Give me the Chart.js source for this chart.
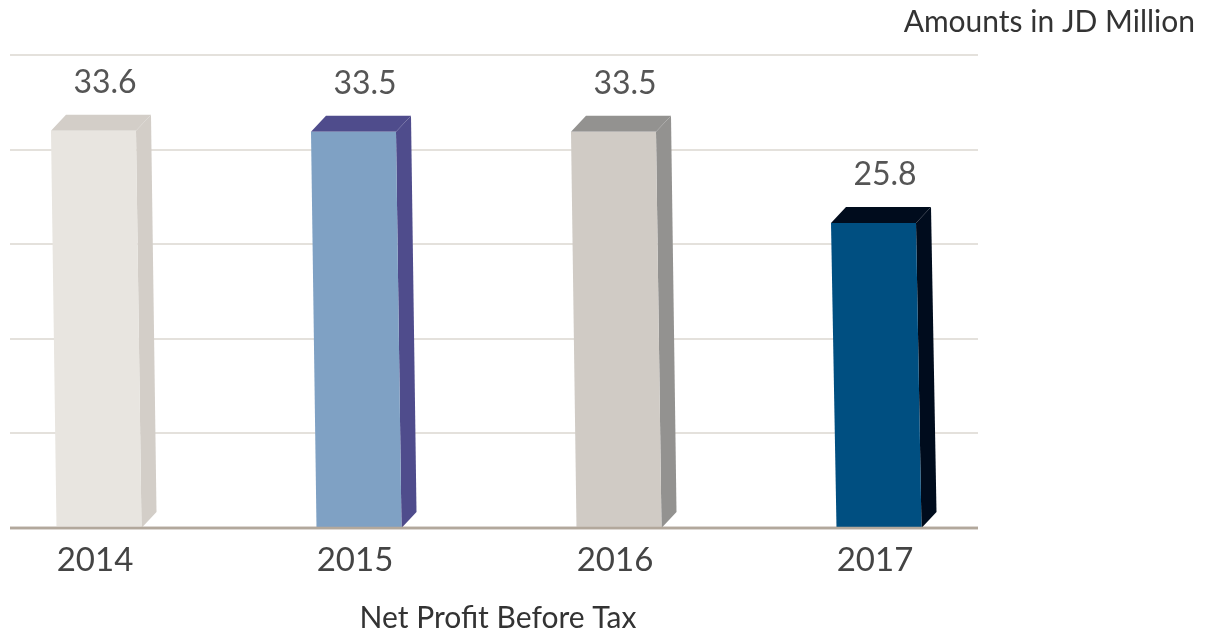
<!DOCTYPE html>
<html>
<head>
<meta charset="utf-8">
<script src="https://cdn.jsdelivr.net/npm/chart.js@4.4.1/dist/chart.umd.min.js"></script>
<style>
  html, body { margin:0; padding:0; background:#fff; }
  #wrap { width:1217px; height:633px; position:relative; }
</style>
</head>
<body>
<div id="wrap"><canvas id="c" width="1217" height="633"></canvas></div>
<script>
// data
const years = ['2014', '2015', '2016', '2017'];
const profit = [33.6, 33.5, 33.5, 25.8];
const gridTicks = [0, 8, 16, 24, 32, 40];

const frontColors = ['#e8e5e0', '#7fa1c4', '#d0cbc5', '#004f81'];
const sideColors  = ['#d3cec8', '#4f4c8c', '#939290', '#000c1d'];

const FONT = 'Lato, "Noto Sans", sans-serif';

// draws grid, 3D boxes and all the text from the chart's scales
const boxPlugin = {
  id: 'boxes',
  beforeDatasetsDraw(chart) {
    const ctx = chart.ctx;
    const y = chart.scales.y;
    ctx.save();
    gridTicks.forEach(t => {
      const py = Math.round(y.getPixelForValue(t));
      ctx.beginPath();
      ctx.moveTo(10, py);
      ctx.lineTo(978, py);
      if (t === 0) { ctx.strokeStyle = '#b2a89c'; ctx.lineWidth = 2.5; }
      else { ctx.strokeStyle = '#e4e1dc'; ctx.lineWidth = 2; }
      ctx.stroke();
    });
    ctx.restore();
  },
  afterDatasetsDraw(chart) {
    const ctx = chart.ctx;
    const meta = chart.getDatasetMeta(0);
    const w = 85, dx = 15, dy = 16;
    ctx.save();
    meta.data.forEach((bar, i) => {
      const top = bar.y, base = bar.base;
      const tl = bar.x - 1.5 - w / 2, tr = tl + w;
      const bl = bar.x + 4 - w / 2, br = bl + w;
      // side
      ctx.fillStyle = sideColors[i];
      ctx.beginPath();
      ctx.moveTo(tr, top); ctx.lineTo(tr + dx, top - dy);
      ctx.lineTo(br + dx, base - dy); ctx.lineTo(br, base);
      ctx.closePath(); ctx.fill();
      // top
      ctx.beginPath();
      ctx.moveTo(tl, top); ctx.lineTo(tl + dx, top - dy);
      ctx.lineTo(tr + dx, top - dy); ctx.lineTo(tr, top);
      ctx.closePath(); ctx.fill();
      // front
      ctx.fillStyle = frontColors[i];
      ctx.beginPath();
      ctx.moveTo(tl, top); ctx.lineTo(tr, top);
      ctx.lineTo(br, base); ctx.lineTo(bl, base);
      ctx.closePath(); ctx.fill();

      ctx.fillStyle = '#555';
      ctx.font = '32px ' + FONT;
      ctx.textAlign = 'center';
      ctx.textBaseline = 'middle';
      ctx.fillText(profit[i].toFixed(1), bar.x + 10, top - 48);

      ctx.fillStyle = '#444';
      ctx.font = '33px ' + FONT;
      ctx.fillText(years[i], bar.x, 560);
    });
    // baseline over the bar bottoms
    const py = chart.scales.y.getPixelForValue(0);
    ctx.beginPath(); ctx.moveTo(10, py); ctx.lineTo(978, py);
    ctx.strokeStyle = '#b2a89c'; ctx.lineWidth = 2.5; ctx.stroke();

    ctx.fillStyle = '#333';
    ctx.textAlign = 'center';
    ctx.font = '30px ' + FONT;
    ctx.fillText('Net Profit Before Tax', 498, 618);
    ctx.textAlign = 'right';
    ctx.fillText('Amounts in JD Million', 1195, 22);
    ctx.restore();
  }
};

new Chart(document.getElementById('c'), {
  type: 'bar',
  data: {
    labels: years,
    datasets: [{
      data: profit,
      backgroundColor: 'rgba(0,0,0,0)',
      borderWidth: 0
    }]
  },
  options: {
    responsive: false,
    animation: false,
    layout: { padding: { left: 95, right: 342, top: 55, bottom: 105 } },
    plugins: { legend: { display: false }, tooltip: { enabled: false } },
    scales: {
      x: { display: false, offset: false },
      y: { display: false, min: 0, max: 40, ticks: { stepSize: 8 } }
    }
  },
  plugins: [boxPlugin]
});
</script>
</body>
</html>
